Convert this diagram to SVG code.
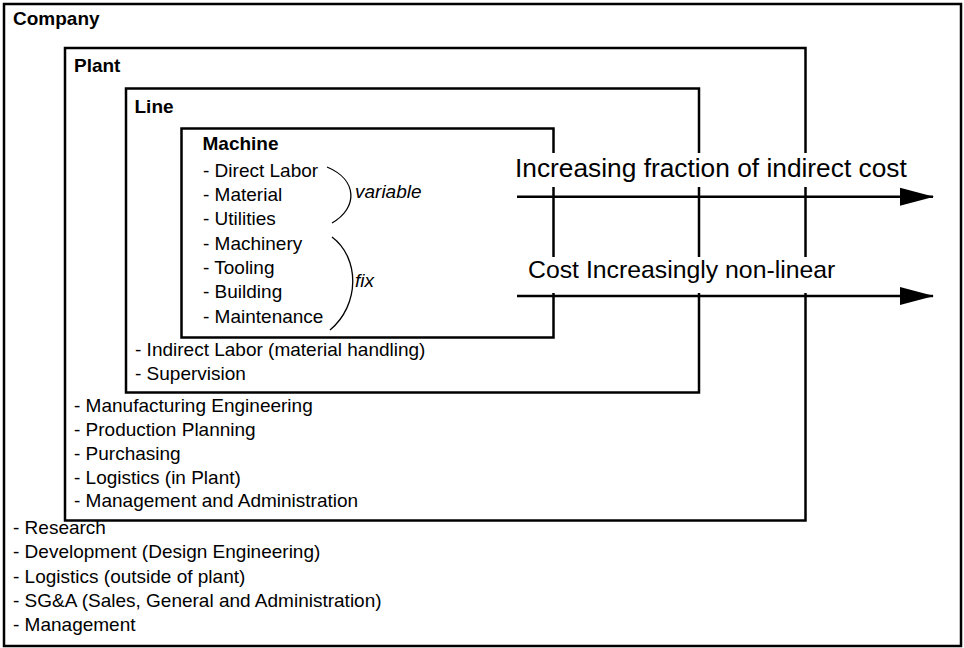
<svg xmlns="http://www.w3.org/2000/svg" width="964" height="648" viewBox="0 0 964 648">
<style>
  .box { fill: none; stroke: #000; stroke-width: 2.5; }
  .t { font-family: "Liberation Sans", Arial, sans-serif; font-size: 19px; fill: #000; }
  .b { font-weight: bold; }
  .i { font-style: italic; }
  .big { font-family: "Liberation Sans", Arial, sans-serif; fill: #000; }
  .brace { fill: none; stroke: #000; stroke-width: 1.3; }
  .arrow { stroke: #000; stroke-width: 2.5; fill: none; }
  .bg { fill: #fff; stroke: none; }
</style>
<defs>
  <marker id="ah" markerUnits="userSpaceOnUse" markerWidth="34" markerHeight="20" refX="33" refY="10" orient="auto">
    <path d="M0,1 L34,10 L0,19 Z" fill="#000"/>
  </marker>
</defs>
<rect x="0" y="0" width="964" height="648" fill="#fff"/>

<g id="company">
  <rect class="box" x="4" y="4" width="957" height="642"/>
  <text class="t b" x="13" y="25">Company</text>
  <text class="t" x="13" y="534">- Research</text>
  <text class="t" x="13" y="558">- Development (Design Engineering)</text>
  <text class="t" x="13" y="582.5">- Logistics (outside of plant)</text>
  <text class="t" x="13" y="607">- SG&amp;A (Sales, General and Administration)</text>
  <text class="t" x="13" y="631">- Management</text>
</g>

<g id="plant">
  <rect class="box" x="65" y="48" width="740.5" height="472.5"/>
  <text class="t b" x="74" y="71.5">Plant</text>
  <text class="t" x="74" y="412">- Manufacturing Engineering</text>
  <text class="t" x="74" y="436">- Production Planning</text>
  <text class="t" x="74" y="460">- Purchasing</text>
  <text class="t" x="74" y="483.5">- Logistics (in Plant)</text>
  <text class="t" x="74" y="507">- Management and Administration</text>
</g>

<g id="line">
  <rect class="box" x="126" y="88.5" width="573" height="304"/>
  <text class="t b" x="134.5" y="112.5">Line</text>
  <text class="t" x="135" y="356">- Indirect Labor (material handling)</text>
  <text class="t" x="135" y="380">- Supervision</text>
</g>

<g id="machine">
  <rect class="box" x="181.5" y="128.5" width="372" height="209"/>
  <text class="t b" x="202.5" y="150">Machine</text>
  <text class="t" x="203" y="176.7">- Direct Labor</text>
  <text class="t" x="203" y="201">- Material</text>
  <text class="t" x="203" y="225.3">- Utilities</text>
  <text class="t" x="203" y="249.6">- Machinery</text>
  <text class="t" x="203" y="274">- Tooling</text>
  <text class="t" x="203" y="298.3">- Building</text>
  <text class="t" x="203" y="322.6">- Maintenance</text>
  <path class="brace" d="M327,167 C358,180 358,208 332,223"/>
  <path class="brace" d="M332,237 C360,258 360,305 330,330"/>
  <text class="t i" x="355" y="198.3">variable</text>
  <text class="t i" x="355" y="286.7">fix</text>
</g>

<g id="labels">
  <rect class="bg" x="512" y="153" width="400" height="34"/>
  <text class="big" x="515" y="177" font-size="26.3">Increasing fraction of indirect cost</text>
  <rect class="bg" x="512" y="257" width="330" height="36"/>
  <text class="big" x="528" y="277.5" font-size="24.8">Cost Increasingly non-linear</text>
</g>

<g id="connectors">
  <line class="arrow" x1="517" y1="196.7" x2="933" y2="196.7" marker-end="url(#ah)"/>
  <line class="arrow" x1="517" y1="296" x2="933" y2="296" marker-end="url(#ah)"/>
</g>
</svg>
